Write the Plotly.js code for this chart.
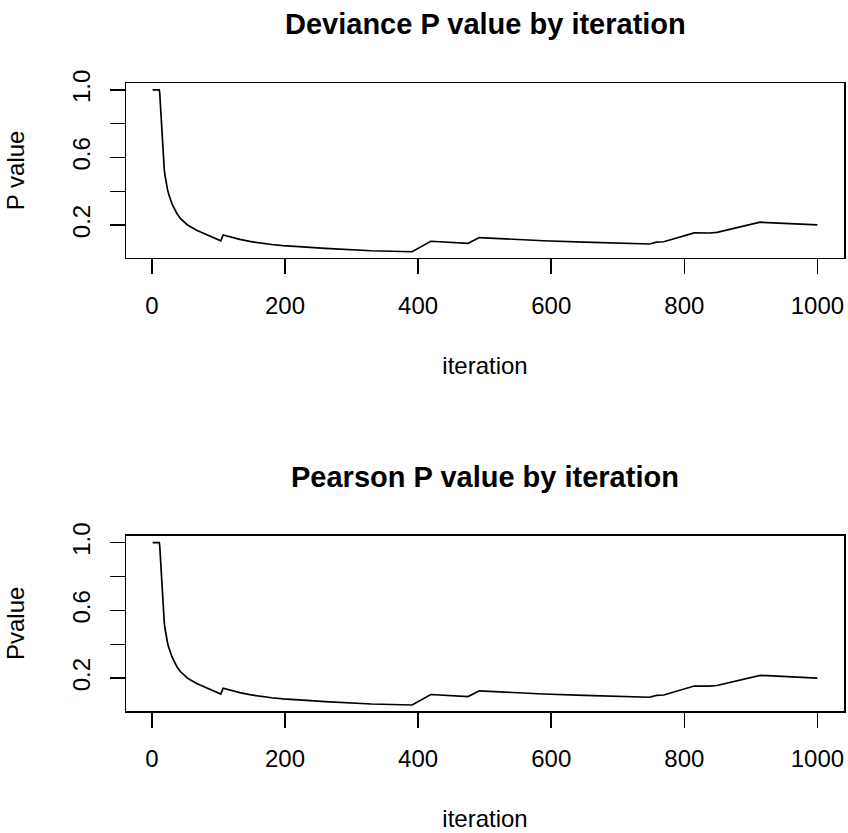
<!DOCTYPE html>
<html>
<head>
<meta charset="utf-8">
<script src="https://cdn.plot.ly/plotly-3.0.1.min.js"></script>
<style>html,body{margin:0;padding:0;background:#fff;}#chart{width:848px;height:833px;}</style>
</head>
<body>
<div id="chart"></div>
<script>
// Iteration index (x) and P values
var iteration = [1, 11, 11.7, 12.3, 13, 13.7, 14.5, 15.5, 16.5, 17.5, 18.5, 19.5, 20.5, 22, 23.5, 25, 27, 30, 34, 38, 43, 48,
  53, 58, 63, 68, 74, 80, 86, 92, 98, 103.5,
  107, 120, 132, 147, 162, 180, 197, 215, 237, 238, 260, 297, 330, 360, 391,
  419, 447, 475, 492, 540, 587, 588, 650, 700, 748, 758, 769, 815, 838, 849, 914, 1000];
var devianceP = [1.0, 1.0, 0.98, 0.94, 0.89, 0.82, 0.75, 0.68, 0.62, 0.57, 0.53, 0.495, 0.468, 0.435, 0.408, 0.385, 0.36, 0.327, 0.295, 0.265, 0.238, 0.218,
  0.202, 0.19, 0.178, 0.168, 0.157, 0.147, 0.137, 0.127, 0.117, 0.107,
  0.141, 0.127, 0.115, 0.103, 0.093, 0.085, 0.078, 0.072, 0.066, 0.068, 0.062, 0.053, 0.048, 0.045, 0.042,
  0.104, 0.099, 0.092, 0.126, 0.116, 0.105, 0.107, 0.099, 0.094, 0.088, 0.099, 0.101, 0.154, 0.153, 0.157, 0.217, 0.201];
var pearsonP = [1.0, 1.0, 0.98, 0.94, 0.89, 0.82, 0.75, 0.68, 0.62, 0.57, 0.53, 0.495, 0.468, 0.435, 0.408, 0.385, 0.36, 0.327, 0.295, 0.265, 0.238, 0.218,
  0.202, 0.19, 0.178, 0.168, 0.157, 0.147, 0.137, 0.127, 0.117, 0.107,
  0.141, 0.127, 0.115, 0.103, 0.093, 0.085, 0.078, 0.072, 0.066, 0.068, 0.062, 0.053, 0.048, 0.045, 0.042,
  0.104, 0.099, 0.092, 0.126, 0.116, 0.105, 0.107, 0.099, 0.094, 0.088, 0.099, 0.101, 0.154, 0.153, 0.157, 0.217, 0.201];

var xTickVals = [0, 200, 400, 600, 800, 1000];
var yTickVals = [0.2, 0.4, 0.6, 0.8, 1.0];
var yTickText = ['0.2', '', '0.6', '', '1.0'];
var titles = ['Deviance P value by iteration', 'Pearson P value by iteration'];
var yTitles = ['P value', 'Pvalue'];
var xTitle = 'iteration';

var FONT = 'Liberation Sans, Arial, Helvetica, sans-serif';

var traces = [
  {x: iteration, y: devianceP, xaxis: 'x', yaxis: 'y', type: 'scatter', mode: 'lines',
   line: {color: '#000', width: 1.7, shape: 'linear'}, hoverinfo: 'x+y'},
  {x: iteration, y: pearsonP, xaxis: 'x2', yaxis: 'y2', type: 'scatter', mode: 'lines',
   line: {color: '#000', width: 1.7, shape: 'linear'}, hoverinfo: 'x+y'}
];

function xAxis(anchor) {
  return {
    anchor: anchor, domain: [0, 1], range: [-39, 1040],
    tickmode: 'array', tickvals: xTickVals,
    ticks: 'outside', ticklen: 15, tickwidth: 1.5, tickcolor: '#000',
    ticklabelstandoff: 11,
    showline: true, mirror: true, linecolor: '#000', linewidth: 1.5,
    showgrid: false, zeroline: false,
    tickfont: {family: FONT, size: 24, color: '#000'},
    title: {text: xTitle, standoff: 39, font: {family: FONT, size: 24, color: '#000'}}
  };
}
function yAxis(anchor, domain, title) {
  return {
    anchor: anchor, domain: domain, range: [0.0067, 1.041],
    tickmode: 'array', tickvals: yTickVals, ticktext: yTickText, tickangle: -90,
    ticks: 'outside', ticklen: 15, tickwidth: 1.5, tickcolor: '#000',
    ticklabelstandoff: 10,
    showline: true, mirror: true, linecolor: '#000', linewidth: 1.5,
    showgrid: false, zeroline: false,
    tickfont: {family: FONT, size: 24, color: '#000'},
    title: {text: title, standoff: 36, font: {family: FONT, size: 24, color: '#000'}}
  };
}

var layout = {
  width: 848, height: 833,
  margin: {l: 126, r: 4, t: 83, b: 122},
  paper_bgcolor: '#fff', plot_bgcolor: '#fff',
  showlegend: false,
  font: {family: FONT, color: '#000'},
  xaxis: xAxis('y'),
  yaxis: yAxis('x', [0.7218, 1], yTitles[0]),
  xaxis2: xAxis('y2'),
  yaxis2: yAxis('x2', [0, 0.2791], yTitles[1]),
  annotations: [
    {text: '<b>' + titles[0] + '</b>', xref: 'paper', yref: 'paper', x: 0.5, y: 1.094,
     xanchor: 'center', yanchor: 'middle', showarrow: false,
     font: {family: FONT, size: 29, color: '#000'}},
    {text: '<b>' + titles[1] + '</b>', xref: 'paper', yref: 'paper', x: 0.5, y: 0.3726,
     xanchor: 'center', yanchor: 'middle', showarrow: false,
     font: {family: FONT, size: 29, color: '#000'}}
  ]
};

Plotly.newPlot('chart', traces, layout, {displayModeBar: false, staticPlot: true});
</script>
</body>
</html>
